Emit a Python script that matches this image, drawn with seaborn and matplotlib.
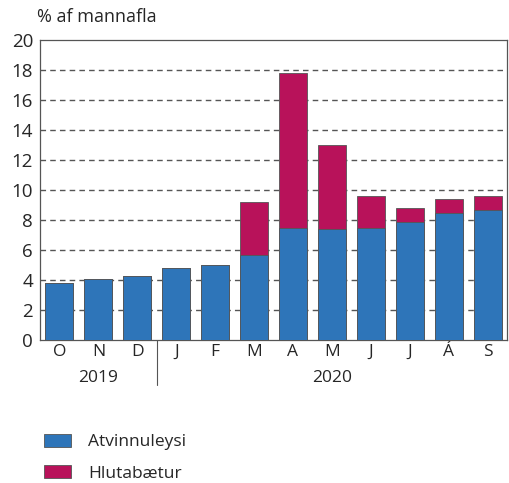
import numpy as np
import pandas as pd
import matplotlib
matplotlib.use("Agg")
import matplotlib.pyplot as plt
import seaborn as sns
from matplotlib.patches import Patch

months = ["O", "N", "D", "J", "F", "M", "A", "M", "J", "J", "Á", "S"]
years = ["2019", "2020"]
atvinnuleysi = [3.8, 4.1, 4.3, 4.8, 5.0, 5.7, 7.5, 7.4, 7.5, 7.9, 8.5, 8.7]
hlutabaetur = [0.0, 0.0, 0.0, 0.0, 0.0, 3.5, 10.3, 5.6, 2.1, 0.9, 0.9, 0.9]
yticks = [0, 2, 4, 6, 8, 10, 12, 14, 16, 18, 20]

blue = "#2E75B9"
red = "#B8125A"

sns.set_theme(style="white")
plt.rcParams["font.family"] = ["Open Sans", "DejaVu Sans"]

df = pd.DataFrame({
    "pos": list(range(len(months))),
    "a": atvinnuleysi,
    "total": [a + h for a, h in zip(atvinnuleysi, hlutabaetur)],
})

fig = plt.figure(figsize=(5.09, 4.83), dpi=100)
ax = fig.add_axes([40 / 509, 1 - 340 / 483, 467 / 509, 300 / 483])

sns.barplot(data=df, x="pos", y="total", color=red, width=0.72, ax=ax,
            edgecolor="#555555", linewidth=0.6, saturation=1, zorder=3)
sns.barplot(data=df, x="pos", y="a", color=blue, width=0.72, ax=ax,
            edgecolor="#555555", linewidth=0.6, saturation=1, zorder=3)

ax.set_ylim(0, 20)
ax.set_xlim(-0.5, len(months) - 0.5)
ax.set_yticks(yticks)
ax.set_yticklabels([str(v) for v in yticks], fontsize=13.5)
ax.set_xticks(range(len(months)))
ax.set_xticklabels(months, fontsize=12.5)
ax.tick_params(axis="x", which="major", length=0, pad=3)
ax.tick_params(axis="y", length=0, pad=5)
ax.set_xticks(np.arange(-0.5, len(months), 1.0), minor=True)
ax.tick_params(axis="x", which="minor", length=6, width=0.8, color="#555555", direction="out")
ax.set_xlabel("")
ax.set_ylabel("")

for v in yticks[1:-1]:
    ax.axhline(v, color="#555555", linestyle=(0, (4, 3)), linewidth=1.0, zorder=1)

for s in ["left", "top", "right", "bottom"]:
    ax.spines[s].set_visible(True)
    ax.spines[s].set_color("#555555")
    ax.spines[s].set_linewidth(0.9)

# year labels
ax.text(1, -0.128, years[0], transform=ax.get_xaxis_transform(), ha="center", va="center", fontsize=12.5)
ax.text(7, -0.128, years[1], transform=ax.get_xaxis_transform(), ha="center", va="center", fontsize=12.5)
ax.plot([2.5, 2.5], [0, -0.15], transform=ax.get_xaxis_transform(), color="#555555",
        linewidth=0.8, clip_on=False)

fig.text(37 / 509, 1 - 17 / 483, "% af mannafla", ha="left", va="center", fontsize=13)

handles = [Patch(facecolor=blue, edgecolor="#555555", linewidth=0.6, label="Atvinnuleysi"),
           Patch(facecolor=red, edgecolor="#555555", linewidth=0.6, label="Hlutabætur")]
fig.legend(handles=handles, loc="upper left", bbox_to_anchor=(28 / 509, 1 - 418 / 483),
           frameon=False, fontsize=12.5, handlelength=1.6, handleheight=0.8,
           handletextpad=0.95, labelspacing=0.85)

fig.savefig("out.png", dpi=100)
